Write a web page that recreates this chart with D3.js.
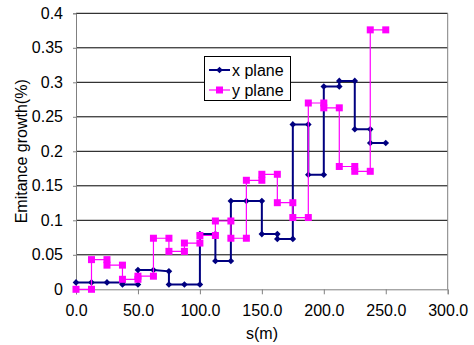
<!DOCTYPE html>
<html>
<head>
<meta charset="utf-8">
<script src="https://cdn.jsdelivr.net/npm/d3@7"></script>
<style>
  body { margin: 0; background: #fff; }
  text { font-family: "Liberation Sans", Arial, sans-serif; fill: #000; }
</style>
</head>
<body>
<svg id="chart" width="474" height="345"></svg>
<script>
// x plane (step curve, each step has two points at the same s)
const xPlaneS = [0, 12.5, 25, 37.5, 37.5, 50, 50, 62.5, 75, 75, 87.5, 100, 100, 112.5, 112.5, 125, 125, 137.5, 150, 150, 162.5, 162.5, 175, 175, 187.5, 187.5, 200, 200, 212.5, 212.5, 225, 225, 237.5, 237.5, 250];
const xPlaneG = [0.01, 0.01, 0.01, 0.01, 0.007, 0.007, 0.028, 0.028, 0.026, 0.007, 0.007, 0.007, 0.08, 0.08, 0.041, 0.041, 0.128, 0.128, 0.128, 0.08, 0.08, 0.073, 0.073, 0.239, 0.239, 0.166, 0.166, 0.294, 0.294, 0.302, 0.302, 0.232, 0.232, 0.212, 0.212];

// y plane
const yPlaneS = [0, 12.5, 12.5, 25, 25, 37.5, 37.5, 50, 50, 62.5, 62.5, 75, 75, 87.5, 87.5, 100, 100, 112.5, 112.5, 125, 125, 137.5, 137.5, 150, 150, 162.5, 162.5, 175, 175, 187.5, 187.5, 200, 200, 212.5, 212.5, 225, 225, 237.5, 237.5, 250];
const yPlaneG = [0, 0, 0.043, 0.043, 0.035, 0.035, 0.0145, 0.0145, 0.019, 0.019, 0.074, 0.074, 0.055, 0.055, 0.067, 0.067, 0.078, 0.078, 0.099, 0.099, 0.074, 0.074, 0.158, 0.158, 0.1667, 0.1667, 0.1255, 0.1255, 0.104, 0.104, 0.27, 0.27, 0.263, 0.263, 0.178, 0.178, 0.171, 0.171, 0.376, 0.376];

const xTicks = [0, 50, 100, 150, 200, 250, 300];
const yTicks = [0, 0.05, 0.1, 0.15, 0.2, 0.25, 0.3, 0.35, 0.4];
const yTickLabels = ["0", "0.05", "0.1", "0.15", "0.2", "0.25", "0.3", "0.35", "0.4"];

const svg = d3.select("#chart");

const x = d3.scaleLinear().domain([0, 300]).range([76, 447.7]);
const y = d3.scaleLinear().domain([0, 0.4]).range([289.3, 13.3]);

// gridlines
svg.append("g")
    .selectAll("line")
    .data(yTicks.slice(1))
    .enter()
    .append("line")
    .attr("x1", x(0))
    .attr("x2", x(300))
    .attr("y1", d => y(d))
    .attr("y2", d => y(d))
    .attr("stroke", "#000")
    .attr("stroke-width", 1);

// right border
svg.append("line")
    .attr("x1", x(300)).attr("x2", x(300))
    .attr("y1", y(0.4)).attr("y2", y(0))
    .attr("stroke", "#808080");

// axes
const xAxis = svg.append("g")
    .attr("transform", `translate(0,${y(0)})`)
    .call(d3.axisBottom(x).tickValues(xTicks).tickSize(5).tickPadding(10).tickFormat(d3.format(".1f")));
const yAxis = svg.append("g")
    .attr("transform", `translate(${x(0)},0)`)
    .call(d3.axisLeft(y).tickValues(yTicks).tickSize(3).tickPadding(10).tickFormat((d, i) => yTickLabels[i]));

[xAxis, yAxis].forEach(a => {
    a.select(".domain").attr("stroke", "#808080");
    a.selectAll(".tick line").attr("stroke", "#808080");
    a.selectAll("text").style("font-size", "16px").attr("fill", "#000");
});

// titles
svg.append("text")
    .attr("x", 262).attr("y", 339)
    .attr("text-anchor", "middle")
    .style("font-size", "16px")
    .text("s(m)");
svg.append("text")
    .attr("transform", `translate(27,${(y(0) + y(0.4)) / 2}) rotate(-90)`)
    .attr("text-anchor", "middle")
    .style("font-size", "16px")
    .text("Emitance growth(%)");

// series
const line = d3.line().x(d => x(d[0])).y(d => y(d[1]));
const xPts = xPlaneS.map((s, i) => [s, xPlaneG[i]]);
const yPts = yPlaneS.map((s, i) => [s, yPlaneG[i]]);

const diamond = d3.symbol().type(d3.symbolDiamond2).size(28);

svg.append("path")
    .datum(xPts)
    .attr("d", line)
    .attr("fill", "none")
    .attr("stroke", "#000080")
    .attr("stroke-width", 2);
svg.append("g")
    .selectAll("path")
    .data(xPts)
    .enter()
    .append("path")
    .attr("d", diamond)
    .attr("transform", d => `translate(${x(d[0])},${y(d[1])})`)
    .attr("fill", "#000080");

svg.append("path")
    .datum(yPts)
    .attr("d", line)
    .attr("fill", "none")
    .attr("stroke", "#ff00ff")
    .attr("stroke-width", 1.2);
svg.append("g")
    .selectAll("rect")
    .data(yPts)
    .enter()
    .append("rect")
    .attr("x", d => x(d[0]) - 3.5)
    .attr("y", d => y(d[1]) - 3.5)
    .attr("width", 7)
    .attr("height", 7)
    .attr("fill", "#ff00ff");

// legend
const legend = svg.append("g");
legend.append("rect")
    .attr("x", 204.5).attr("y", 56.5)
    .attr("width", 86).attr("height", 44)
    .attr("fill", "#fff")
    .attr("stroke", "#000");

const legendItems = [
    { name: "x plane", color: "#000080", width: 2, mark: "diamond" },
    { name: "y plane", color: "#ff00ff", width: 1.2, mark: "square" }
];
legendItems.forEach((it, i) => {
    const cy = 70 + i * 20;
    legend.append("line")
        .attr("x1", 209).attr("x2", 230)
        .attr("y1", cy).attr("y2", cy)
        .attr("stroke", it.color)
        .attr("stroke-width", it.width);
    if (it.mark === "diamond") {
        legend.append("path")
            .attr("d", diamond)
            .attr("transform", `translate(219.5,${cy})`)
            .attr("fill", it.color);
    } else {
        legend.append("rect")
            .attr("x", 216).attr("y", cy - 3.5)
            .attr("width", 7).attr("height", 7)
            .attr("fill", it.color);
    }
    legend.append("text")
        .attr("x", 232).attr("y", cy + 5.5)
        .style("font-size", "16px")
        .text(it.name);
});
</script>
</body>
</html>
